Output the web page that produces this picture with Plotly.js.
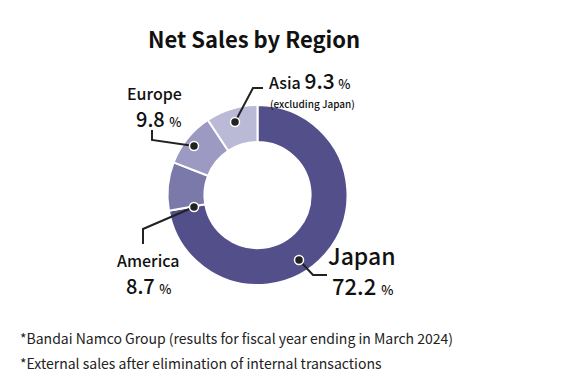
<!DOCTYPE html>
<html>
<head>
<meta charset="utf-8">
<script src="https://cdn.plot.ly/plotly-3.0.1.min.js"></script>
<style>html,body{margin:0;padding:0;background:#fff;}#chart{width:568px;height:390px;}</style>
</head>
<body>
<div id="chart"></div>
<script>
// Data
const regions = ["Japan", "America", "Europe", "Asia"];
const shares = [72.2, 8.7, 9.8, 9.3];
const sliceColors = ["#524f8a", "#7b79aa", "#9c9ac2", "#bab9d6"];
const subNotes = ["", "", "", "(excluding Japan)"];
const footnotes = [
  "*Bandai Namco Group (results for fiscal year ending in March 2024)",
  "*External sales after elimination of internal transactions"
];
const titleText = "Net Sales by Region";

const W = 568, H = 390;
const FONT = '"Noto Sans CJK JP", "Noto Sans", sans-serif';

// pie geometry (pixels)
const cx = 257.5, cy = 195, R = 90;

const trace = {
  type: "pie",
  labels: regions,
  values: shares,
  sort: false,
  direction: "clockwise",
  rotation: 0,
  hole: 0.59,
  textinfo: "none",
  hoverinfo: "label+value",
  showlegend: false,
  marker: { colors: sliceColors, line: { color: "#ffffff", width: 2 } },
  domain: { x: [(cx - R) / W, (cx + R) / W], y: [1 - (cy + R) / H, 1 - (cy - R) / H] }
};

// label layout (pixels): name line, value line, leader path, dot
const labelLayout = {
  Japan:   { name: [362, 255, 23], val: [362, 285, 22], leader: "M299,260 L313,275 L327,275", dot: [299, 260] },
  America: { name: [148, 260, 16], val: [148, 285, 20], leader: "M194,207 L143,229 L143,244", dot: [194, 207] },
  Europe:  { name: [154, 93, 16], val: [158, 118, 20], leader: "M194,146 L152,140 L152,130", dot: [194, 146] },
  Asia:    { name: [267, 80, 16], val: null, leader: "M235,122 L253,88 L263,88", dot: [235, 122] }
};

const annotations = [];
const shapes = [];
regions.forEach((r, i) => {
  const L = labelLayout[r];
  if (r === "Asia") {
    annotations.push({
      x: L.name[0], y: L.name[1], xref: "x", yref: "y", xanchor: "left", yanchor: "middle", showarrow: false,
      text: r + " <span style='font-size:21px'>" + shares[i].toFixed(1) + "</span> <span style='font-size:13px'>%</span>",
      font: { family: FONT, size: 16, color: "#111", weight: 500 }
    });
    annotations.push({
      x: 268, y: 103, xref: "x", yref: "y", xanchor: "left", yanchor: "middle", showarrow: false,
      text: subNotes[i], font: { family: FONT, size: 10, color: "#111", weight: 500 }
    });
  } else {
    annotations.push({
      x: L.name[0], y: L.name[1], xref: "x", yref: "y", xanchor: "center", yanchor: "middle", showarrow: false,
      text: r, font: { family: FONT, size: L.name[2], color: "#111", weight: 500 }
    });
    annotations.push({
      x: L.val[0], y: L.val[1], xref: "x", yref: "y", xanchor: "center", yanchor: "middle", showarrow: false,
      text: shares[i].toFixed(1) + " <span style='font-size:13px'>%</span>",
      font: { family: FONT, size: L.val[2], color: "#111", weight: 500 }
    });
  }
  shapes.push({ type: "path", xref: "x", yref: "y", path: L.leader, line: { color: "#222", width: 2 } });
  const d = L.dot, rr = 4.5;
  shapes.push({ type: "circle", xref: "x", yref: "y", x0: d[0] - rr, x1: d[0] + rr, y0: d[1] - rr, y1: d[1] + rr,
    fillcolor: "#222", line: { color: "#ffffff", width: 1.5 } });
});

annotations.push({
  x: 254, y: 38, xref: "x", yref: "y", xanchor: "center", yanchor: "middle", showarrow: false,
  text: titleText, font: { family: FONT, size: 22, color: "#111", weight: 700 }
});
footnotes.forEach((t, k) => {
  annotations.push({
    x: 18, y: 338 + k * 25, xref: "x", yref: "y", xanchor: "left", yanchor: "middle", showarrow: false,
    text: t, font: { family: FONT, size: 14, color: "#222", weight: 400 }
  });
});

const layout = {
  width: W, height: H,
  margin: { l: 0, r: 0, t: 0, b: 0, pad: 0 },
  paper_bgcolor: "#ffffff", plot_bgcolor: "rgba(0,0,0,0)",
  xaxis: { range: [0, W], visible: false, fixedrange: true },
  yaxis: { range: [H, 0], visible: false, fixedrange: true },
  showlegend: false,
  annotations: annotations,
  shapes: shapes
};

Plotly.newPlot("chart", [trace], layout, { displayModeBar: false, staticPlot: true });
</script>
</body>
</html>
